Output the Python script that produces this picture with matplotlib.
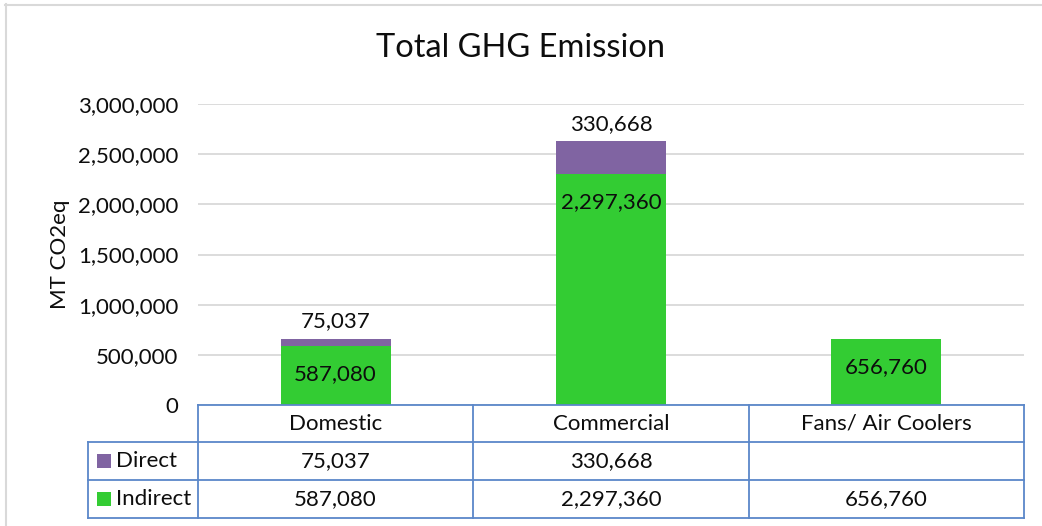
import matplotlib
matplotlib.use("Agg")
import matplotlib.pyplot as plt
import matplotlib.transforms as mtransforms
from matplotlib.patches import Rectangle
from matplotlib.lines import Line2D

categories = ["Domestic", "Commercial", "Fans/ Air Coolers"]
series_names = ["Direct", "Indirect"]
direct = [75037, 330668, None]
indirect = [587080, 2297360, 656760]
yticks = [0, 500000, 1000000, 1500000, 2000000, 2500000, 3000000]

GREEN = "#33CC33"
PURPLE = "#8064A2"
GRID = "#D9D9D9"
TBL = "#5B87C9"
TXT = "#0D0D0D"
FONT = "Lato"
FS = 16

plt.rcParams["font.family"] = [FONT, "DejaVu Sans"]

W, H = 1042, 526
fig = plt.figure(figsize=(W / 100, H / 100), dpi=100)
pix = mtransforms.Affine2D().scale(1 / W, -1 / H).translate(0, 1) + fig.transFigure

ax = fig.add_axes([198 / W, 1 - 405 / H, (1024 - 198) / W, (405 - 104) / H])
x = list(range(len(categories)))
ax.set_xlim(-0.5, len(categories) - 0.5)
ax.set_ylim(0, 3000000)

d_vals = [v if v is not None else 0 for v in direct]
ax.bar(x, indirect, width=0.4, color=GREEN, zorder=3)
ax.bar(x, d_vals, width=0.4, bottom=indirect, color=PURPLE, zorder=3)

for i in x:
    ax.annotate(f"{indirect[i]:,}", (i, indirect[i]), xytext=(0, -20), textcoords="offset points",
                ha="center", va="center", fontsize=FS, color=TXT, zorder=4)
    if direct[i] is not None:
        top = indirect[i] + direct[i]
        ax.annotate(f"{direct[i]:,}", (i, top), xytext=(0, 12.5), textcoords="offset points",
                    ha="center", va="center", fontsize=FS, color=TXT, zorder=4)

ax.set_yticks(yticks)
ax.set_yticklabels([f"{v:,}" for v in yticks], fontsize=FS, color=TXT)
ax.tick_params(axis="y", length=0, pad=14)
ax.tick_params(axis="x", length=0, labelbottom=False)
ax.grid(axis="y", color=GRID, linewidth=1.3, zorder=0)
for s in ax.spines.values():
    s.set_visible(False)
ax.set_ylabel("MT CO2eq", fontsize=FS, color=TXT, labelpad=6)

fig.text(0.5, 1 - 48 / H, "Total GHG Emission", ha="center", va="center", fontsize=23.5, color=TXT)

# table
bt = mtransforms.blended_transform_factory(ax.transData, pix)
bounds = [i - 0.5 for i in x] + [x[-1] + 0.5]
row_y = [405, 442, 480, 518]
left_px = 88

def line(xs, ys, tr):
    fig.add_artist(Line2D(xs, ys, transform=tr, color=TBL, linewidth=1.3, clip_on=False))

line([bounds[0], bounds[-1]], [row_y[0], row_y[0]], bt)
for yy in row_y[1:]:
    line([left_px, 1024], [yy, yy], pix)
for b in bounds:
    line([b, b], [row_y[0], row_y[-1]], bt)
line([left_px, left_px], [row_y[1], row_y[-1]], pix)

for i, c in enumerate(categories):
    fig.text(i, (row_y[0] + row_y[1]) / 2, c, transform=bt, ha="center", va="center", fontsize=FS, color=TXT)
    if direct[i] is not None:
        fig.text(i, (row_y[1] + row_y[2]) / 2, f"{direct[i]:,}", transform=bt, ha="center", va="center",
                 fontsize=FS, color=TXT)
    fig.text(i, (row_y[2] + row_y[3]) / 2, f"{indirect[i]:,}", transform=bt, ha="center", va="center",
             fontsize=FS, color=TXT)

for r, (name, col) in enumerate(zip(series_names, [PURPLE, GREEN])):
    yc = (row_y[1 + r] + row_y[2 + r]) / 2
    fig.add_artist(Rectangle((97, yc + 7), 14, -14, transform=pix, facecolor=col, edgecolor="none"))
    fig.text(116, yc, name, transform=pix, ha="left", va="center", fontsize=FS, color=TXT)

fig.add_artist(Line2D([5, W], [4.5, 4.5], transform=pix, color=GRID, linewidth=1.5))
fig.add_artist(Line2D([5.5, 5.5], [4, H], transform=pix, color=GRID, linewidth=1.5))

fig.savefig("out.png", dpi=100)
